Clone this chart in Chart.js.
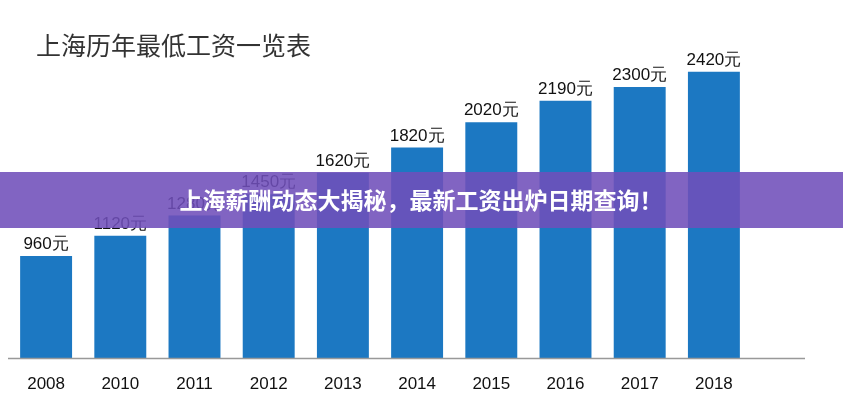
<!DOCTYPE html>
<html><head><meta charset="utf-8">
<script src="https://cdn.jsdelivr.net/npm/chart.js@4"></script>
<style>body{margin:0;background:#fff}#wrap{width:843px;height:400px}</style>
</head><body><div id="wrap"><canvas id="c"></canvas></div>
<script>
const years = ['2008','2010','2011','2012','2013','2014','2015','2016','2017','2018'];
const wages = [960,1120,1280,1450,1620,1820,2020,2190,2300,2420];
const chartTitle = '上海历年最低工资一览表';
const bannerText = '上海薪酬动态大揭秘，最新工资出炉日期查询！';

const overlay = {
  id: 'overlay',
  afterDatasetsDraw(chart) {
    const ctx = chart.ctx;
    const meta = chart.getDatasetMeta(0);
    ctx.save();
    ctx.font = '17px "Liberation Sans", Arial, sans-serif';
    ctx.fillStyle = '#111';
    ctx.textAlign = 'center';
    ctx.textBaseline = 'bottom';
    meta.data.forEach((bar, i) => ctx.fillText(wages[i] + '元', bar.x, bar.y - 3));
    const bottom = chart.chartArea.bottom;
    ctx.strokeStyle = '#999';
    ctx.lineWidth = 1.5;
    ctx.beginPath(); ctx.moveTo(8, bottom + 0.5); ctx.lineTo(805, bottom + 0.5); ctx.stroke();
    ctx.font = '25px "Noto Sans CJK SC", sans-serif';
    ctx.fillStyle = '#333';
    ctx.textAlign = 'left';
    ctx.textBaseline = 'middle';
    ctx.fillText(chartTitle, 36, 45);
    ctx.fillStyle = 'rgba(112,78,186,0.88)';
    ctx.fillRect(0, 172, 843, 56);
    ctx.fillStyle = '#fff';
    ctx.font = 'bold 23px "Noto Sans CJK SC", sans-serif';
    ctx.textAlign = 'center';
    ctx.fillText(bannerText, 421, 200);
    ctx.restore();
  }
};

new Chart(document.getElementById('c'), {
  type: 'bar',
  data: { labels: years, datasets: [{ data: wages, backgroundColor: '#1c78c2', barPercentage: 0.7, categoryPercentage: 1 }] },
  options: {
    responsive: true, maintainAspectRatio: false, animation: false,
    layout: { padding: { left: 9, right: 92, top: 0, bottom: 0 } },
    plugins: { legend: { display: false }, tooltip: { enabled: false } },
    scales: {
      x: { grid: { display: false }, border: { display: false },
           afterFit(scale) { scale.height = 42; },
           ticks: { color: '#111', font: { size: 17, family: '"Liberation Sans", Arial' }, padding: 8 } },
      y: { display: false, min: 150, max: 2990 }
    }
  },
  plugins: [overlay]
});
</script></body></html>
